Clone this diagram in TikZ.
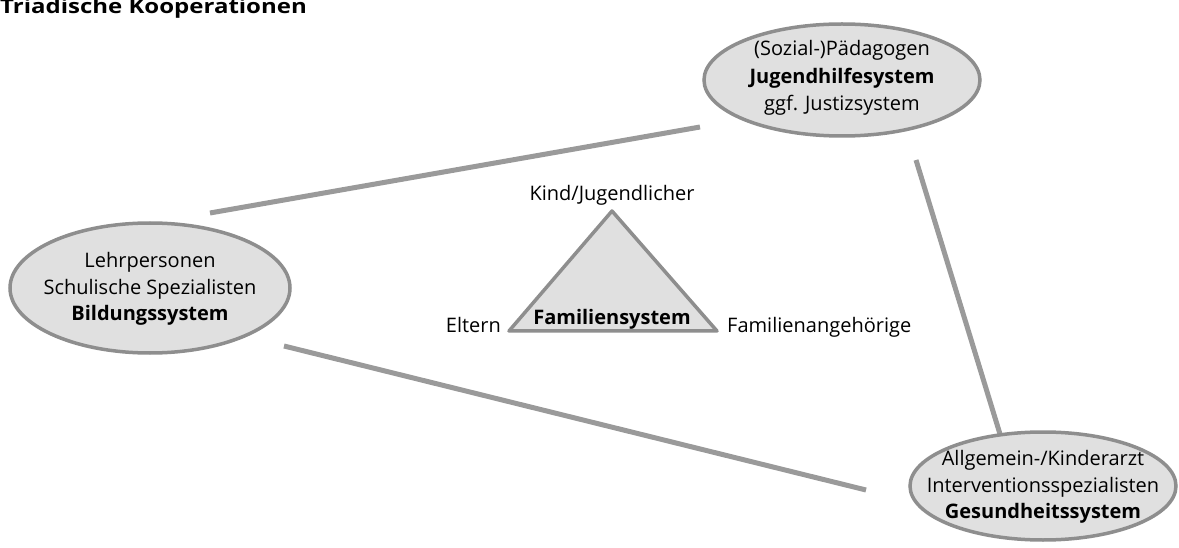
\documentclass[tikz,border=0pt]{standalone}
\usepackage{fontspec}
\setmainfont{Open Sans}
\usetikzlibrary{shapes.geometric,backgrounds}
\definecolor{linegray}{HTML}{9A9A9A}
\definecolor{fillgray}{HTML}{E0E0E0}
\definecolor{edgegray}{HTML}{8E8E8E}
\tikzset{
  sysell/.style={ellipse, draw=edgegray, line width=3.5pt, fill=fillgray, inner sep=0pt},
  conn/.style={draw=linegray, line width=5pt},
  lbl/.style={font=\fontsize{20}{26}\selectfont, inner sep=0pt, anchor=base},
}
\begin{document}
\begin{tikzpicture}[x=1pt,y=-1pt]
\useasboundingbox (0,0) rectangle (1179,548);
\node[anchor=base west, inner sep=0pt, font=\fontsize{20}{24}\selectfont\bfseries] (title) at (0,14) {\scalebox{1.2}[1]{Triadische Kooperationen}};
% ellipses
\node[sysell, minimum width=276, minimum height=112] (jh) at (842,80) {};
\node[sysell, minimum width=280, minimum height=130] (bs) at (150,288) {};
\node[sysell, minimum width=266, minimum height=108] (gs) at (1043,486) {};
% ellipse texts
\node[lbl] (jh1) at (842,56) {(Sozial-)Pädagogen};
\node[lbl] (jh2) at (842,84) {\textbf{Jugendhilfesystem}};
\node[lbl] (jh3) at (842,111) {ggf. Justizsystem};
\node[lbl] (bs1) at (150,268) {Lehrpersonen};
\node[lbl] (bs2) at (150,295) {Schulische Spezialisten};
\node[lbl] (bs3) at (150,321) {\textbf{Bildungssystem}};
\node[lbl] (gs1) at (1043,465) {Allgemein-/Kinderarzt};
\node[lbl] (gs2) at (1043,492) {Interventionsspezialisten};
\node[lbl] (gs3) at (1043,518) {\textbf{Gesundheitssystem}};
% connector endpoints
\coordinate (l1a) at (210,213);
\coordinate (l1b) at (700,127);
\coordinate (l2a) at (916,160);
\coordinate (l2b) at (1015,483);
\coordinate (l3a) at (284,346);
\coordinate (l3b) at (866,490);
\begin{scope}[on background layer]
\draw[conn] (l1a) -- (l1b);
\draw[conn] (l2a) -- (l2b);
\draw[conn] (l3a) -- (l3b);
\end{scope}
% triangle
\coordinate (ta) at (612,211);
\coordinate (tl) at (509,331);
\coordinate (tr) at (717,331);
\draw[draw=edgegray, line width=3.5pt, fill=fillgray, line join=round] (ta) -- (tl) -- (tr) -- cycle;
\node[lbl] (fam) at (612,324) {\textbf{Familiensystem}};
\node[lbl] (kind) at (612,201) {Kind/Jugendlicher};
\node[lbl, anchor=base east] (elt) at (501,332) {Eltern};
\node[lbl, anchor=base west] (fang) at (727,332) {Familienangehörige};
\end{tikzpicture}
\end{document}
